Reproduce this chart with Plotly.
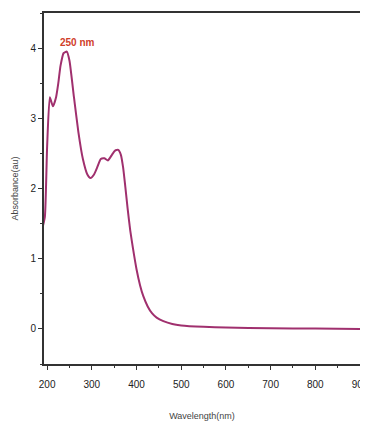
import plotly.graph_objects as go

wavelength = [190, 195, 200, 206, 213, 220, 225, 230, 237, 244, 250, 260, 270, 280, 290, 297,
              305, 312, 320, 328, 336, 345, 352, 359, 365, 370, 375, 380, 386, 392, 400,
              408, 415, 425, 435, 445, 460, 480, 500, 550, 600, 700, 800, 900]
absorbance = [1.45, 1.6, 2.6, 3.3, 3.17, 3.3, 3.5, 3.75, 3.93, 3.95, 3.82, 3.3, 2.8, 2.42, 2.2, 2.15,
              2.2, 2.3, 2.42, 2.43, 2.4, 2.48, 2.54, 2.55, 2.48, 2.3, 2.02, 1.72, 1.4, 1.15, 0.85,
              0.62, 0.47, 0.32, 0.22, 0.16, 0.11, 0.07, 0.05, 0.03, 0.02, 0.01, 0.005, 0.0]

peak_x = [250]
peak_label = ["250 nm"]

fig = go.Figure()
fig.add_trace(go.Scatter(x=wavelength, y=absorbance, mode="lines",
                         line=dict(color="#a0306e", width=2, shape="spline", smoothing=0.5),
                         showlegend=False))

fig.add_annotation(x=224, y=4.08, text="<b>" + peak_label[0] + "</b>", showarrow=False,
                   xanchor="left", font=dict(color="#d0402a", size=10, family="Liberation Sans Narrow, Arial"))

font = dict(family="Liberation Sans Narrow, Liberation Sans, Arial", size=10, color="#222")
fig.update_layout(
    width=360, height=413,
    margin=dict(l=36, r=8, t=5, b=57),
    plot_bgcolor="white", paper_bgcolor="white",
    font=font,
)
fig.update_xaxes(range=[193, 900], tickvals=[200, 300, 400, 500, 600, 700, 800, 900],
                 showline=True, linecolor="#333", linewidth=2, mirror=True,
                 ticks="outside", ticklen=4, tickcolor="#333", showgrid=False, zeroline=False,
                 minor=dict(dtick=50, tick0=0, ticks="outside", ticklen=2, tickcolor="#333"),
                 title=dict(text="Wavelength(nm)", font=dict(size=9, color="#444"), standoff=24),
                 tickfont=dict(size=10, color="#222"), automargin=False,
                 ticklabeloverflow="allow", ticklabelstandoff=6)
fig.update_yaxes(range=[-0.5, 4.5], tickvals=[0, 1, 2, 3, 4],
                 showline=True, linecolor="#333", linewidth=2, mirror=True,
                 ticks="outside", ticklen=4, tickcolor="#333", showgrid=False, zeroline=False,
                 minor=dict(dtick=0.5, tick0=0, ticks="outside", ticklen=2, tickcolor="#333"),
                 title=dict(text="Absorbance(au)", font=dict(size=9, color="#444"), standoff=10),
                 tickfont=dict(size=10, color="#222"), automargin=False)

fig.write_html("out.html")
